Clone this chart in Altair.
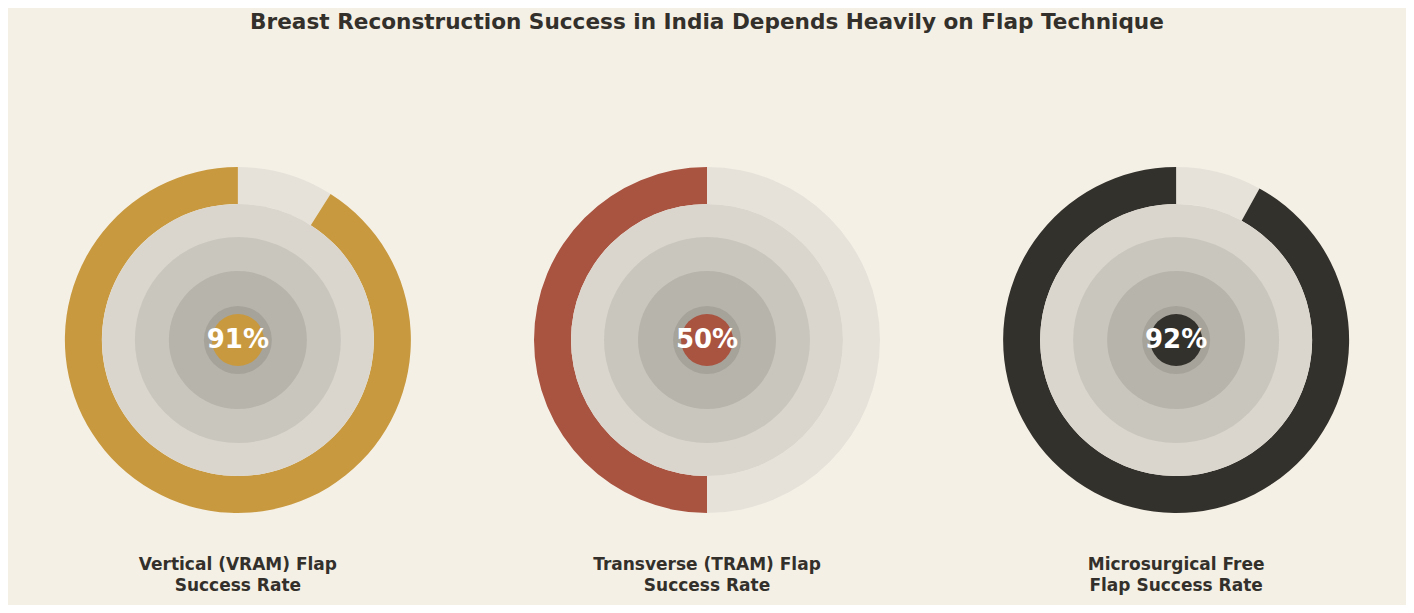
import math
import pandas as pd
import altair as alt

techniques = ["Vertical (VRAM) Flap", "Transverse (TRAM) Flap", "Microsurgical Free Flap"]
labels = [
    "Vertical (VRAM) Flap\nSuccess Rate",
    "Transverse (TRAM) Flap\nSuccess Rate",
    "Microsurgical Free\nFlap Success Rate",
]
success_rates = [91, 50, 92]
palette = ["#c8993f", "#a95341", "#33312c"]

df = pd.DataFrame({"technique": techniques, "label": labels, "rate": success_rates})
df["gap_end"] = 100 - df["rate"]
df["full"] = 100
df["zero"] = 0
df["pct"] = df["rate"].astype(str) + "%"

TEXT = "#33302b"
CY = 284  # vertical centre of the donuts inside the plot area

x_enc = alt.X("technique:N", sort=techniques,
              scale=alt.Scale(type="point", padding=0.49), axis=None)
theta_scale = alt.Scale(domain=[0, 100], range=[0, 2 * math.pi])
colour = alt.Color("technique:N", scale=alt.Scale(domain=techniques, range=palette),
                   legend=None)
whole = dict(theta=alt.Theta("zero:Q", scale=theta_scale, stack=False), theta2="full:Q")

base = alt.Chart(df).encode(x=x_enc, y=alt.value(CY))

# outer ring: pale remainder + coloured success share (drawn anticlockwise from 12)
gap = base.mark_arc(innerRadius=136, outerRadius=173, color="#e6e2da").encode(
    theta=alt.Theta("zero:Q", scale=theta_scale, stack=False), theta2="gap_end:Q")
filled = base.mark_arc(innerRadius=136, outerRadius=173).encode(
    theta=alt.Theta("gap_end:Q", scale=theta_scale, stack=False), theta2="full:Q",
    color=colour)

# concentric grey discs
disc_radii = [136, 103, 69, 34]
disc_fills = ["#dad6ce", "#c9c6be", "#b7b4ac", "#a6a39b"]
discs = [base.mark_arc(outerRadius=r, color=c).encode(**whole)
         for r, c in zip(disc_radii, disc_fills)]

dot = base.mark_arc(outerRadius=26).encode(color=colour, **whole)

pct = base.mark_text(font="DejaVu Sans", fontSize=26, fontWeight="bold",
                     color="white", align="center", baseline="middle").encode(text="pct:N")

names = base.mark_text(font="DejaVu Sans", fontSize=17, fontWeight="bold", color=TEXT,
                       align="center", baseline="middle", lineBreak="\n",
                       lineHeight=21).encode(text="label:N", y=alt.value(CY + 225))

chart = alt.layer(gap, filled, *discs, dot, pct, names).properties(
    width=1398, height=549,
    autosize=alt.AutoSizeParams(type="none"),
    padding={"left": 0, "right": 0, "top": 48, "bottom": 0},
    background="#f5f0e6",
    title=alt.TitleParams(
        "Breast Reconstruction Success in India Depends Heavily on Flap Technique",
        font="DejaVu Sans", fontSize=21.6, fontWeight="bold", color=TEXT,
        anchor="middle", offset=22),
).configure_view(stroke=None)

chart.save("out.html", embed_options={"renderer": "svg", "actions": False})
